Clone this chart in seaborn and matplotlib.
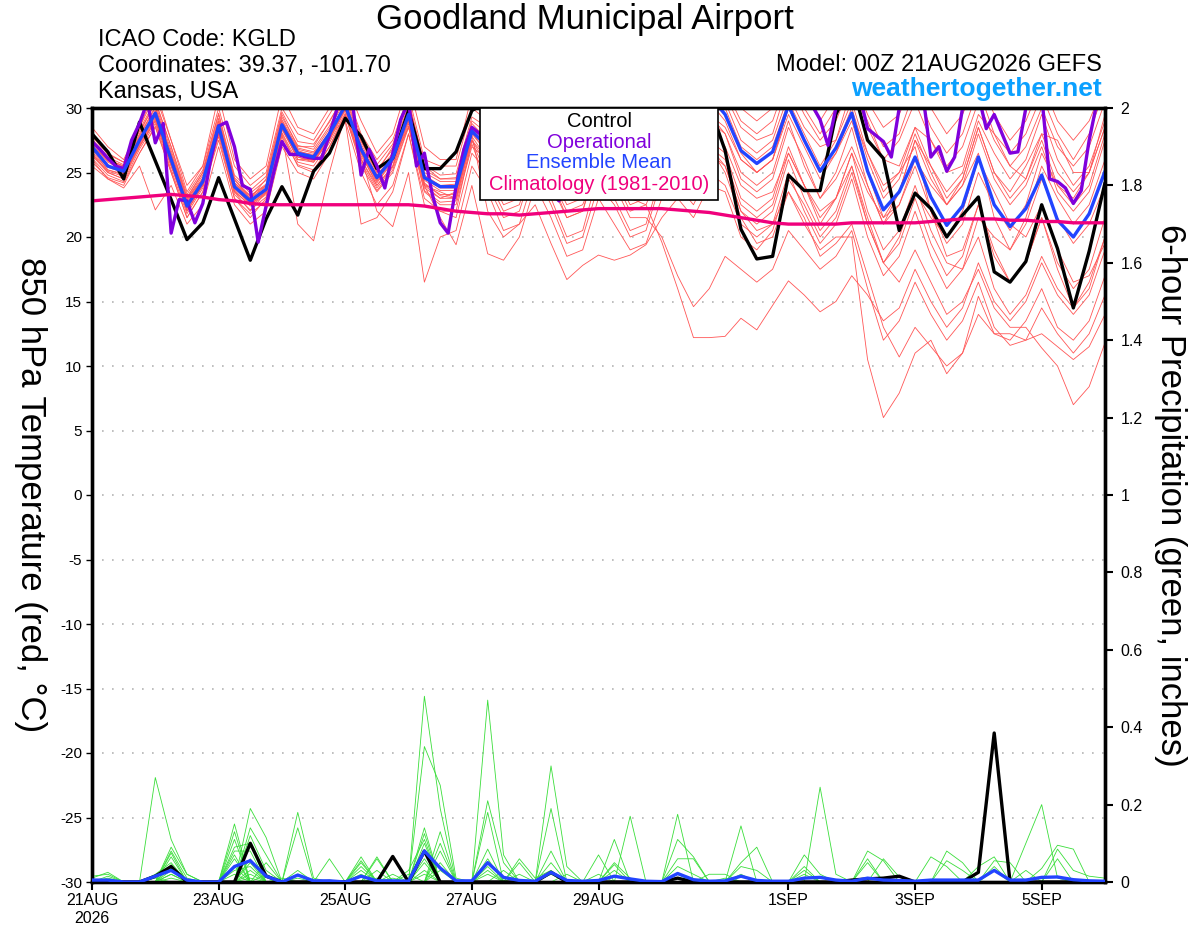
import numpy as np
import pandas as pd
import matplotlib
matplotlib.use("Agg")
import matplotlib.pyplot as plt
from matplotlib.patches import Rectangle
import seaborn as sns

# forecast hours: ensemble every 6 h, operational every 3 h
hours = np.arange(0, 385, 6)
hours_op = np.arange(0, 385, 3)

# ---- 850 hPa temperature, ensemble members (deg C) ----
temp_m01 = [27.5,26.0,25.5,28.0,30.5, 27.0,23.0,25.0,29.5,24.5, 23.0,24.5,29.5,27.0,27.0, 29.0,31.0,27.5,25.0,27.0, 30.5,25.5,24.5,24.5,29.0, 28.0,26.0,26.5,30.0,28.0, 26.0,26.5,30.0,28.5,26.5, 27.0,30.5,31.0,30.0,32.0, 31.0,28.5,27.5,28.0,32.0, 29.5,27.5,29.0,32.0,28.5, 26.0,27.5,30.5,27.5,25.5, 27.0,30.5,27.5,25.5,27.0, 30.0,27.0,25.5,27.0,30.5]
temp_m02 = [26.5,25.0,24.5,27.0,29.0, 25.5,22.0,24.0,28.0,24.0, 22.5,23.5,28.5,26.0,26.0, 27.5,30.5,26.5,24.0,25.5, 29.5,24.0,23.5,23.0,28.0, 27.5,25.5,26.0,29.5,27.5, 25.5,26.0,29.5,28.0,26.0, 26.5,29.5,30.5,29.5,31.5, 30.5,27.5,26.5,27.5,31.0, 28.5,27.0,27.5,31.5,29.0, 26.0,25.5,28.5,27.5,25.0, 25.5,29.5,28.0,25.5,24.5, 28.0,27.5,25.0,25.0,29.5]
temp_m03 = [28.5,27.0,26.0,28.5,31.0, 27.5,24.0,25.5,30.0,25.5, 24.0,25.0,30.0,28.0,27.5, 29.5,31.5,28.0,26.0,27.5, 31.0,26.0,25.5,25.5,30.0, 29.0,27.0,27.0,31.0,29.0, 27.0,27.5,31.0,29.0,27.0, 27.5,31.0,31.5,30.5,32.5, 31.5,29.0,28.0,29.0,32.5, 30.0,28.0,30.0,32.5,29.5, 27.0,28.0,31.5,28.5,26.5, 28.0,31.5,28.0,26.5,28.0, 31.0,28.0,26.0,28.0,31.5]
temp_m04 = [26.0,24.5,24.0,26.5,28.5, 25.0,21.5,23.5,27.5,23.0, 21.5,23.0,28.0,25.5,25.0, 27.0,29.5,25.5,23.5,25.0, 28.5,23.5,22.5,22.5,27.0, 26.0,24.0,24.5,28.0,26.0, 23.5,24.0,28.0,26.5,24.0, 24.5,28.5,29.5,28.5,30.5, 29.5,26.5,25.0,26.0,30.0, 27.5,25.0,26.5,29.0,25.0, 21.5,22.5,25.5,22.0,19.5, 21.0,25.0,22.5,20.5,22.5, 26.5,24.0,23.0,25.0,28.5]
temp_m05 = [25.5,24.5,23.8,25.5,22.1, 24.0,21.0,22.5,27.0,22.5, 21.0,22.0,27.0,25.0,24.5, 26.5,29.0,25.0,22.5,24.0, 28.0,23.0,22.0,21.5,26.5, 25.0,22.5,23.0,27.0,24.5, 21.5,22.0,26.5,25.0,22.5, 23.0,27.0,28.0,26.5,29.0, 28.0,24.5,23.5,24.5,28.5, 26.0,23.0,25.0,28.5,24.0, 21.0,22.5,26.0,24.0,22.5, 24.5,28.5,25.0,23.5,25.5, 28.0,25.0,23.5,25.0,28.5]
temp_m06 = [27.0,26.0,25.5,28.5,31.5, 27.5,23.5,25.5,31.0,26.0, 24.5,25.5,31.0,28.5,28.0, 30.0,32.0,29.0,26.5,28.0, 32.0,27.0,26.0,26.0,31.0, 30.0,28.0,28.5,32.0,30.0, 28.0,28.5,32.0,30.5,28.5, 29.0,32.0,32.5,31.5,33.0, 32.0,30.0,29.0,30.0,33.0, 31.0,29.0,31.0,33.5,30.5, 28.5,29.5,32.5,30.0,28.0, 29.5,32.5,29.5,27.5,29.0, 32.0,29.0,27.5,29.0,32.0]
temp_m07 = [26.8,25.2,24.8,27.0,29.0, 25.5,22.5,24.0,28.5,23.5, 22.0,23.5,28.0,21.0,19.7, 25.0,29.5,26.0,24.0,25.5, 29.0,24.0,23.0,23.5,27.5, 24.5,22.0,22.5,26.5,24.0, 21.5,22.0,26.0,24.5,22.0, 22.5,25.5,26.5,25.0,27.5, 26.5,23.0,22.0,23.0,27.0, 24.0,21.5,23.0,26.5,22.0, 19.0,20.5,24.0,20.5,18.0, 17.5,20.0,16.0,14.0,15.5, 18.5,16.0,14.5,16.5,20.0]
temp_m08 = [27.2,25.8,25.2,27.8,30.0, 26.5,23.0,24.5,29.0,24.2, 23.0,24.0,29.0,26.8,26.5, 28.0,29.0,21.0,21.5,23.5, 28.0,22.5,22.0,22.0,27.5, 25.5,23.0,23.5,27.5,25.0, 22.5,23.0,27.0,25.5,23.0, 23.5,27.5,28.5,27.0,29.5, 28.0,25.0,24.0,25.0,29.0, 25.5,23.0,24.5,27.0,24.0, 21.0,23.5,27.5,25.5,23.5, 25.0,29.0,26.5,24.5,26.0, 29.5,26.0,24.0,25.5,29.0]
temp_m09 = [26.3,25.0,24.5,27.3,29.3, 25.8,22.2,24.2,28.3,23.6, 22.4,23.3,28.3,26.2,25.8, 27.5,29.8,26.2,22.0,20.8, 25.0,16.5,20.0,20.5,25.5, 23.5,20.5,21.0,25.0,22.5, 19.5,20.0,24.0,22.5,20.0, 20.5,24.5,25.5,24.0,26.5, 25.5,22.0,21.0,22.0,26.0, 23.0,20.5,22.0,25.5,21.0, 18.0,19.5,23.0,19.5,17.0, 18.5,22.5,19.0,16.5,18.0, 21.5,18.0,16.0,17.5,21.5]
temp_m10 = [27.6,26.2,25.6,27.6,29.8, 26.2,22.8,24.6,28.8,24.2, 23.2,24.0,28.8,26.6,26.4, 28.2,30.2,27.0,24.8,26.0, 28.5,24.0,21.5,19.4,24.0, 18.7,18.2,20.0,24.0,21.5, 18.5,19.0,23.0,21.0,19.0, 19.5,23.0,24.0,22.5,25.0, 24.0,21.0,20.0,21.0,25.0, 22.0,19.5,21.0,24.5,20.0, 17.0,18.5,22.0,18.5,16.0, 17.5,21.5,20.0,19.0,21.0, 24.5,21.5,19.5,21.0,24.0]
temp_m11 = [27.0,25.6,25.0,27.4,29.4, 26.0,22.6,24.4,28.4,24.0, 22.8,23.6,28.4,26.4,26.0, 27.8,30.0,26.6,24.4,26.2, 29.2,24.4,23.6,23.6,28.0, 26.5,24.5,25.0,27.5,25.5, 23.5,24.0,26.5,25.0,23.0, 22.5,19.6,16.0,12.2,12.2, 12.3,13.7,12.8,14.7,16.6, 15.5,14.2,15.0,17.0,15.5, 13.5,14.5,17.5,15.0,13.0, 14.5,18.0,15.0,13.5,15.0, 18.0,15.5,14.0,15.5,19.0]
temp_m12 = [26.6,25.2,24.9,27.2,29.2, 25.7,22.0,24.0,28.2,23.5, 22.5,23.4,28.5,26.0,25.8, 27.6,29.9,26.3,24.2,25.8, 29.0,24.2,23.2,23.0,27.8, 26.0,23.5,24.0,27.0,24.5, 22.0,22.5,25.5,24.0,21.5, 21.5,20.0,17.0,14.6,16.0, 18.5,17.5,16.5,17.5,20.5, 19.0,17.5,18.5,20.5,16.0, 12.0,13.5,16.5,14.0,12.0, 13.5,16.5,13.0,11.6,12.0, 14.5,12.5,11.0,12.5,15.5]
temp_m13 = [27.3,25.9,25.3,27.6,29.7, 26.2,22.7,24.5,28.7,24.1, 23.0,23.9,28.9,26.7,26.3, 28.1,30.4,27.0,24.8,26.3, 29.7,24.8,24.0,24.1,28.4, 27.0,25.0,25.5,28.5,26.0, 23.5,24.0,27.5,25.5,23.0, 23.5,26.5,27.0,25.5,27.0, 25.5,22.0,20.5,21.0,23.5, 21.0,19.0,20.0,20.0,10.5, 6.0,7.9,11.0,12.0,9.4, 11.0,15.4,12.5,12.0,13.5, 16.0,13.0,12.0,13.5,17.0]
temp_m14 = [26.9,25.4,25.0,27.4,29.5, 26.0,22.3,24.3,28.5,23.8, 22.7,23.6,28.6,26.4,26.1, 27.9,30.1,26.7,24.5,26.0, 29.4,24.5,23.8,23.8,28.1, 26.5,24.5,25.0,28.0,26.0, 24.0,24.5,28.0,26.5,24.5, 25.0,28.0,28.5,27.0,29.0, 27.0,24.0,23.0,23.5,26.5, 24.0,22.0,23.0,25.5,21.5, 18.0,16.5,19.0,16.5,14.0, 15.0,17.5,14.5,13.0,13.0, 11.4,10.0,7.0,8.4,11.8]
temp_m15 = [27.8,26.4,25.8,28.2,30.3, 26.7,23.1,25.0,29.2,24.6, 23.4,24.4,29.3,27.1,26.8, 28.6,30.8,27.4,25.2,26.8, 30.2,25.2,24.5,24.6,28.8, 27.5,25.5,26.0,29.0,27.0, 25.0,25.5,29.0,27.5,25.5, 26.0,28.5,28.0,26.5,27.0, 25.0,21.5,19.5,20.0,23.5, 21.5,18.5,19.5,21.0,17.0, 13.0,10.7,13.0,11.5,10.0, 11.0,14.0,12.5,12.5,12.0, 12.5,11.5,10.5,11.5,14.0]
temp_m16 = [26.1,24.8,24.3,26.8,28.8, 25.2,21.8,23.8,28.0,23.3, 22.1,23.1,28.1,25.8,25.5, 27.3,29.6,26.0,23.8,25.4, 28.8,23.8,23.0,23.0,27.5, 26.0,24.0,24.5,27.5,25.5, 23.0,23.5,27.5,26.0,23.5, 24.0,27.5,28.0,27.5,29.5, 28.5,26.0,25.0,26.0,29.5, 27.0,24.5,26.5,29.5,26.5, 24.0,25.0,27.0,22.0,18.5, 19.0,22.5,18.5,16.5,18.0, 21.5,17.5,14.5,16.0,20.0]
temp_m17 = [28.0,26.5,25.8,28.3,30.6, 27.0,23.3,25.2,29.6,24.8, 23.6,24.7,29.7,27.4,27.2, 28.9,31.2,27.8,25.6,27.2, 30.6,25.6,24.8,24.9,29.3, 28.5,26.5,27.0,30.0,28.0, 26.0,26.5,30.0,28.0,26.0, 26.5,30.0,30.5,29.0,31.0, 30.0,27.0,26.0,27.0,30.5, 28.0,25.5,27.5,30.5,26.5, 23.5,25.0,28.5,25.5,23.0, 24.5,28.5,25.0,23.0,24.5, 27.5,24.0,22.5,24.0,28.0]
temp_m18 = [25.8,24.6,24.2,26.5,28.6, 25.0,21.5,23.5,27.8,23.0, 21.8,22.8,27.8,25.6,25.2, 27.0,29.4,25.8,23.6,25.2, 28.6,23.6,22.7,22.8,27.2, 24.0,21.5,22.0,26.0,23.0, 20.0,20.5,25.0,23.0,20.5, 21.0,25.0,26.0,24.5,27.0, 26.0,22.5,21.5,22.5,26.5, 24.0,21.0,23.0,26.5,23.5, 21.5,23.5,27.5,24.5,22.5, 24.0,26.5,21.5,19.0,21.5, 25.5,23.0,21.0,22.5,26.0]
temp_m19 = [27.4,26.0,25.4,27.9,30.1, 26.4,22.9,24.8,29.0,24.4, 23.2,24.1,29.1,26.9,26.6, 28.4,30.6,27.2,25.0,26.5, 30.0,25.0,24.3,24.3,28.6, 27.5,25.5,26.0,29.0,27.0, 24.5,25.0,29.0,27.0,24.5, 25.0,29.0,29.5,28.0,30.5, 29.0,26.0,25.0,26.0,30.0, 27.5,25.0,27.0,30.0,26.0, 23.0,24.5,28.0,25.0,22.5, 24.0,28.0,24.5,22.5,24.0, 27.0,23.5,22.0,23.5,27.5]
temp_m20 = [26.4,25.1,24.7,27.1,29.1, 25.6,22.1,24.0,28.3,23.7, 22.6,23.5,28.4,26.2,25.9, 27.7,29.9,26.5,24.3,25.9, 29.1,24.1,23.3,23.3,27.9, 22.0,20.0,21.0,22.5,19.5, 16.7,17.8,18.6,18.2,18.6, 19.4,21.5,23.0,21.5,24.0, 23.5,20.0,19.0,20.5,24.5, 22.5,20.0,21.5,25.0,21.0, 18.0,20.0,23.5,21.5,20.0, 22.0,26.0,23.5,21.0,20.0, 22.5,19.0,16.5,17.0,19.5]

temp_members = [temp_m01, temp_m02, temp_m03, temp_m04, temp_m05, temp_m06, temp_m07,
                temp_m08, temp_m09, temp_m10, temp_m11, temp_m12, temp_m13, temp_m14,
                temp_m15, temp_m16, temp_m17, temp_m18, temp_m19, temp_m20]

temp_control = [28.0,26.6,24.5,28.9,25.9, 22.9,19.8,21.1,24.6,21.4, 18.2,21.4,23.9,21.7,25.1, 26.5,29.2,27.8,25.3,26.1, 29.8,25.3,25.3,26.6,29.8, 30.5,28.5,26.0,28.0,29.5, 27.0,25.0,27.5,29.0,27.0, 25.5,28.0,30.0,31.0,30.2, 26.7,20.6,18.3,18.5,24.8, 23.6,23.6,29.5,32.0,27.5, 26.1,20.5,23.4,22.2,20.0, 21.7,23.1,17.3,16.5,18.1, 22.5,19.1,14.5,18.9,24.2]
temp_mean = [27.0,25.5,25.1,27.5,29.6, 26.0,22.4,24.3,28.6,23.9, 22.8,23.7,28.7,26.5,26.2, 28.0,30.2,26.8,24.6,26.1, 29.5,24.6,23.9,23.9,28.2, 27.0,25.0,25.5,28.5,26.5, 24.5,25.0,28.5,27.0,25.0, 25.5,28.5,29.5,28.5,31.0, 29.5,26.7,25.7,26.6,30.2, 27.5,25.1,26.9,29.6,25.1, 22.1,23.5,26.2,23.1,20.9, 22.4,26.2,22.5,20.8,22.2, 24.8,21.3,20.0,21.8,25.1]
temp_clim = [22.8,22.9,23.0,23.1,23.2, 23.3,23.2,23.1,22.9,22.8, 22.6,22.5,22.5,22.5,22.5, 22.5,22.5,22.5,22.5,22.5, 22.5,22.4,22.2,22.0,21.9, 21.8,21.8,21.7,21.8,21.9, 22.0,22.1,22.2,22.2,22.2, 22.2,22.2,22.1,22.0,21.9, 21.7,21.5,21.3,21.1,21.0, 21.0,21.0,21.0,21.1,21.1, 21.1,21.1,21.1,21.2,21.3, 21.4,21.4,21.4,21.3,21.3, 21.2,21.2,21.1,21.1,21.1]
temp_oper = [27.4,26.8,26.1,25.5,25.3,27.5,28.8,30.5,27.3,28.8,
             20.3,22.9,22.8,21.1,22.6,26.0,28.6,28.9,27.0,24.0,
             23.7,19.6,22.4,25.1,27.4,26.4,26.4,26.2,26.1,26.1,
             27.9,30.0,31.0,30.0,24.8,26.8,25.5,23.8,26.5,29.1,
             30.5,25.5,26.5,23.3,21.1,20.3,23.9,26.8,28.5,28.0,
             27.0,25.5,27.0,29.0,30.5,29.0,27.0,25.0,23.5,22.8,
             24.0,26.5,29.0,31.0,31.5,30.0,28.0,26.5,27.5,29.5,
             31.0,31.5,31.0,29.5,28.0,28.5,30.5,31.5,32.0,32.0,
             31.5,31.0,30.5,31.0,32.0,32.0,31.5,30.8,31.0,31.5,
             31.0,30.2,29.1,27.1,30.0,31.5,32.0,31.0,28.4,27.9,
             27.4,26.2,30.0,31.5,32.0,31.0,26.2,27.0,25.1,26.2,
             30.0,31.5,31.0,28.4,29.5,28.0,26.5,26.6,30.0,31.5,
             31.0,24.5,24.3,23.8,22.6,23.6,27.5,30.5,31.5]

# ---- 6-hour precipitation, ensemble members (inches) ----
prcp_m01 = [.01,.025,0,0,0, .09,.02,0,0,0, .19,.115,0,0,0, 0,0,0,0,.02, 0,.14,0,0,0, 0,0,0,0,0, 0,0,0,.11,0, 0,0,0,0,0, 0,0,0,0,0, 0,0,0,0,0, 0,0,0,0,.08, .05,0,0,0,0, 0,0,0,0,0]
prcp_m02 = [.015,.02,0,0,0, .08,.01,0,0,0, .14,.07,0,0,0, 0,0,.065,0,.01, 0,.125,0,0,0, .47,.07,0,0,0, 0,0,0,0,0, 0,0,.175,0,0, 0,0,0,0,0, 0,0,0,0,0, 0,0,0,0,.055, .03,0,0,0,0, 0,0,0,0,0]
prcp_m03 = [0,.015,0,0,0, .075,0,0,0,.15, 0,.05,0,.01,0, 0,0,0,0,0, .03,.11,0,0,0, .06,0,0,0,0, 0,0,0,.05,.01, 0,0,0,0,0, 0,.145,0,0,0, 0,0,0,0,0, 0,0,0,0,0, 0,.04,.065,0,0, 0,0,0,0,0]
prcp_m04 = [0,.01,0,0,0, .065,0,0,0,.13, 0,0,0,0,0, 0,0,.055,0,0, 0,.48,.19,0,0, 0,0,0,0,0, 0,0,0,0,0, 0,0,.11,.065,0, 0,0,0,0,0, 0,0,0,0,0, 0,0,0,0,0, 0,0,.055,.05,0, 0,0,0,0,0]
prcp_m05 = [0,0,0,0,.27, .11,.02,0,0,0, .12,.03,0,0,0, 0,0,0,.065,0, 0,0,.13,0,0, 0,0,0,0,0, 0,0,0,.045,0, 0,0,0,0,0, 0,.05,.09,0,0, 0,0,0,0,0, 0,0,0,0,0, 0,0,.04,0,.03, 0,0,0,0,0]
prcp_m06 = [0,0,0,0,.02, .05,0,0,0,.11, 0,.02,0,0,0, 0,0,.05,0,0, 0,.35,.25,.01,0, 0,0,0,0,0, 0,0,0,0,0, 0,0,.06,.06,0, 0,0,0,0,0, 0,0,0,0,0, 0,0,0,0,0, 0,0,.03,0,0, 0,0,0,0,0]
prcp_m07 = [0,0,0,0,.01, 0,0,0,0,.09, .10,0,.01,0,0, 0,0,0,.06,0, 0,.10,0,0,0, .21,.05,0,0,0, 0,0,0,0,0, 0,0,0,0,0, 0,.04,.03,0,0, 0,0,0,0,0, 0,0,0,0,0, 0,0,0,0,.10, .20,.01,0,0,0]
prcp_m08 = [0,0,0,0,0, .045,0,0,0,.08, .08,0,0,0,0, 0,0,.04,0,0, 0,.08,0,0,0, .18,0,.05,0,0, 0,0,0,0,0, 0,0,.04,.02,0, 0,0,0,0,0, 0,0,0,0,0, 0,0,0,0,0, 0,0,0,0,0, .035,.095,.085,0,0]
prcp_m09 = [0,0,0,0,0, .04,0,0,0,.07, 0,0,0,.18,.01, 0,0,0,0,0, 0,0,.10,0,0, .085,0,0,0,0, 0,0,0,0,0, 0,0,0,0,.02, .02,0,0,0,0, 0,0,0,0,0, 0,0,0,0,0, 0,0,0,0,0, 0,.085,.03,.015,.01]
prcp_m10 = [0,0,0,0,0, .03,0,0,0,.06, 0,0,0,.14,0, 0,0,0,0,0, .02,0,.08,0,0, 0,0,0,0,.30, .04,0,0,0,0, 0,0,0,0,0, .01,0,0,0,0, 0,0,0,0,0, 0,0,0,0,0, 0,0,0,0,0, 0,.06,0,0,0]
prcp_m11 = [0,0,0,0,0, .02,0,0,0,0, .06,0,0,.03,0, 0,0,0,0,0, 0,.06,0,0,0, .04,0,0,0,.19, 0,0,0,0,0, 0,0,0,0,0, 0,.02,0,0,0, 0,.245,.02,0,0, 0,0,0,0,0, 0,0,0,0,0, 0,0,0,0,.005]
prcp_m12 = [0,0,0,0,0, .02,0,0,0,.04, 0,0,0,.02,0, .06,0,0,0,0, 0,.05,0,0,0, 0,.03,0,0,.08, 0,0,0,0,0, 0,0,0,0,0, 0,0,0,0,0, .07,.02,0,0,0, 0,0,0,0,0, 0,0,0,0,0, 0,0,0,0,0]
prcp_m13 = [0,0,0,0,0, .01,0,0,0,0, .05,0,0,0,0, .005,0,.03,0,0, 0,0,.05,0,0, .03,0,0,0,.05, 0,0,0,0,0, 0,0,0,0,0, 0,0,0,0,0, .04,0,0,0,0, 0,0,0,0,0, 0,0,0,0,0, 0,0,0,0,0]
prcp_m14 = [0,0,0,0,0, 0,0,0,0,.03, .04,0,0,0,0, 0,0,.02,0,0, 0,.03,0,0,0, 0,0,.06,.01,.03, 0,0,0,0,0, 0,0,0,0,0, 0,0,0,0,0, .03,0,0,0,0, 0,0,0,0,0, 0,0,0,0,0, 0,0,0,0,0]
prcp_m15 = [0,0,0,0,0, 0,0,0,0,.02, 0,0,0,0,0, 0,0,0,.03,0, 0,0,.03,0,0, 0,0,.02,0,0, .02,0,0,0,0, 0,0,0,0,0, 0,0,0,0,0, .02,0,0,0,0, 0,0,0,0,0, 0,0,0,0,0, 0,0,0,0,0]
prcp_m16 = [0,0,0,0,0, 0,0,0,0,0, .03,0,0,0,0, 0,0,0,.01,0, 0,.02,0,0,0, 0,0,0,0,.02, 0,0,.07,0,0, 0,0,0,0,0, 0,0,0,0,0, 0,0,0,0,.08, .055,0,0,0,0, 0,0,0,0,0, 0,0,0,0,0]
prcp_m17 = [0,0,0,0,0, 0,0,0,0,0, .02,0,0,0,0, 0,0,0,0,0, 0,0,0,0,0, .02,0,0,0,0, 0,0,.02,0,0, 0,0,0,0,0, 0,0,0,0,0, 0,0,0,0,.06, 0,0,0,0,0, 0,0,0,0,0, 0,0,0,0,0]
prcp_m18 = [0,0,0,0,0, 0,0,0,0,0, .01,0,0,0,0, 0,0,0,0,0, 0,0,0,0,0, 0,0,0,0,0, 0,0,0,.03,0, 0,0,0,0,0, 0,0,0,0,0, 0,0,0,0,.05, 0,0,0,0,0, 0,0,0,0,0, 0,0,0,0,0]
prcp_m19 = [0,0,0,0,0, 0,0,0,0,0, 0,0,0,0,0, 0,0,0,0,0, 0,0,0,0,0, 0,0,0,0,0, 0,0,0,0,.17, 0,0,0,0,0, 0,0,0,0,0, 0,0,0,0,0, .06,.013,0,0,0, 0,0,0,0,0, 0,0,0,0,0]
prcp_m20 = [0,0,0,0,0, 0,0,0,0,0, 0,0,0,0,0, 0,0,0,0,0, 0,0,0,0,0, 0,0,0,0,0, 0,0,0,0,0, 0,0,.02,0,0, 0,0,0,0,0, 0,0,0,0,0, 0,0,0,.065,.04, 0,0,0,0,0, 0,0,0,0,0]

prcp_members = [prcp_m01, prcp_m02, prcp_m03, prcp_m04, prcp_m05, prcp_m06, prcp_m07,
                prcp_m08, prcp_m09, prcp_m10, prcp_m11, prcp_m12, prcp_m13, prcp_m14,
                prcp_m15, prcp_m16, prcp_m17, prcp_m18, prcp_m19, prcp_m20]

prcp_control = [0,0,0,0,.015, .04,0,0,0,0, .10,.015,0,0,0, 0,0,0,0,.066, 0,.08,0,0,0, 0,0,0,0,.025, 0,0,0,0,0, 0,0,.01,0,0, 0,0,0,0,0, 0,0,0,.005,.008, .01,.015,0,0,0, 0,.025,.385,0,0, 0,0,0,0,0]
prcp_mean = [.005,.005,0,0,.015, .03,.005,0,0,.04, .055,.015,0,.018,.003, .003,0,.015,.003,.003, .002,.08,.036,.003,.003, .05,.012,.004,.002,.025, .004,.002,.004,.015,.008, .002,.001,.022,.006,.002, .003,.015,.004,.002,.002, .01,.012,.005,.002,.01, .005,.004,.002,.005,.005, .005,.005,.03,.005,.005, .012,.013,.006,.003,.002]

date_ticks = [0, 48, 96, 144, 192, 264, 312, 360]
date_labels = ["21AUG\n2026", "23AUG", "25AUG", "27AUG", "29AUG", "1SEP", "3SEP", "5SEP"]

RED = "#ff5656"
GREEN = "#3ade3a"
PURPLE = "#8000dc"
BLUE = "#2244ff"
PINK = "#f0007c"
SITE = "#0aa0ff"


def long_form(members, x):
    frames = []
    for k, vals in enumerate(members):
        frames.append(pd.DataFrame({"hour": x, "value": vals, "member": k}))
    return pd.concat(frames, ignore_index=True)


df_temp = long_form(temp_members, hours)
df_prcp = long_form(prcp_members, hours)

sns.set_theme(style="white")
plt.rcParams["font.family"] = ["Liberation Sans", "DejaVu Sans"]
plt.rcParams["text.color"] = "black"
plt.rcParams["xtick.color"] = "black"
plt.rcParams["ytick.color"] = "black"
plt.rcParams["axes.labelcolor"] = "black"
plt.rcParams["axes.unicode_minus"] = False

fig = plt.figure(figsize=(12, 9.27), dpi=100)
ax = fig.add_axes([92 / 1200, 1 - 882 / 927, 1013 / 1200, 774 / 927])
ax2 = ax.twinx()

# dotted grid on the temperature axis
for v in range(-25, 30, 5):
    ax.axhline(v, color="#b4b4b4", lw=1.2, ls=(0, (1, 5)), zorder=0.5)

sns.lineplot(data=df_temp, x="hour", y="value", units="member", estimator=None,
             color=RED, linewidth=0.6, ax=ax, legend=False, zorder=2)
sns.lineplot(x=hours, y=temp_control, color="black", linewidth=2.4, ax=ax, zorder=3)
sns.lineplot(x=hours_op, y=temp_oper, color=PURPLE, linewidth=2.4, ax=ax, zorder=4)
sns.lineplot(x=hours, y=temp_mean, color=BLUE, linewidth=2.4, ax=ax, zorder=5)
sns.lineplot(x=hours, y=temp_clim, color=PINK, linewidth=2.4, ax=ax, zorder=6)

sns.lineplot(data=df_prcp, x="hour", y="value", units="member", estimator=None,
             color=GREEN, linewidth=0.6, ax=ax2, legend=False, zorder=2)
sns.lineplot(x=hours, y=prcp_control, color="black", linewidth=2.4, ax=ax2, zorder=3)
sns.lineplot(x=hours, y=prcp_mean, color=BLUE, linewidth=2.4, ax=ax2, zorder=4)

ax.set_xlim(0, 384)
ax.set_ylim(-30, 30)
ax2.set_ylim(0, 2)

ax.set_yticks(range(-30, 31, 5))
ax.set_xticks(date_ticks)
ax.set_xticklabels(date_labels, fontsize=11.5, linespacing=1.25)
ax.tick_params(axis="y", direction="out", length=4, width=1, labelsize=11, pad=3, left=True)
ax.tick_params(axis="x", direction="out", length=6, width=1.5, pad=2, bottom=True)

p_ticks = np.round(np.arange(0, 2.01, 0.2), 1)
ax2.set_yticks(p_ticks)
ax2.set_yticklabels(["0" if t == 0 else ("%g" % t) for t in p_ticks])
ax2.tick_params(axis="y", direction="out", length=6, width=1.5, labelsize=11.5, pad=5, right=True)

ax.set_xlabel("")
ax.set_ylabel("")
ax2.set_ylabel("")
for a in (ax, ax2):
    for s in a.spines.values():
        s.set_linewidth(2.4)
        s.set_color("black")

# legend box
box = Rectangle((0.383, 0.881), 0.235, 0.119, transform=ax2.transAxes,
                facecolor="white", edgecolor="black", lw=1.2, zorder=20)
ax2.add_patch(box)
legend_rows = [("Control", "black", 0.983), ("Operational", PURPLE, 0.956),
               ("Ensemble Mean", BLUE, 0.929), ("Climatology (1981-2010)", PINK, 0.901)]
for txt, col, yy in legend_rows:
    ax2.text(0.5005, yy, txt, color=col, fontsize=14.5, ha="center", va="center",
             transform=ax2.transAxes, zorder=21)

# header texts
fig.text(585 / 1200, 1 - 19 / 927, "Goodland Municipal Airport", fontsize=25,
         ha="center", va="center")
fig.text(98 / 1200, 1 - 40 / 927, "ICAO Code: KGLD", fontsize=17, ha="left", va="center")
fig.text(98 / 1200, 1 - 66 / 927, "Coordinates: 39.37, -101.70", fontsize=17, ha="left", va="center")
fig.text(98 / 1200, 1 - 92 / 927, "Kansas, USA", fontsize=17, ha="left", va="center")
fig.text(1102 / 1200, 1 - 65 / 927, "Model: 00Z 21AUG2026 GEFS", fontsize=17, ha="right", va="center")
fig.text(1102 / 1200, 1 - 89 / 927, "weathertogether.net", fontsize=19, fontweight="bold",
         color=SITE, ha="right", va="center")

fig.text(30 / 1200, 1 - 495 / 927, "850 hPa Temperature (red, °C)", fontsize=25,
         rotation=-90, ha="center", va="center")
fig.text(1170 / 1200, 1 - 495 / 927, "6-hour Precipitation (green, inches)", fontsize=25,
         rotation=-90, ha="center", va="center")

fig.savefig("out.png", dpi=100)
